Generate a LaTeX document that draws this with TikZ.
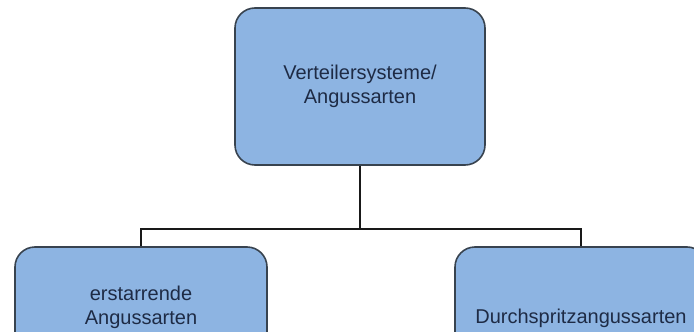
\documentclass[tikz,border=0pt]{standalone}
\usepackage{fontspec}
\setmainfont{Liberation Sans}
\usepackage{tikz}
\usetikzlibrary{positioning, calc}

\definecolor{boxfill}{HTML}{8DB4E2}
\definecolor{boxline}{HTML}{38434F}
\definecolor{boxtext}{HTML}{1E2B45}

\begin{document}
\begin{tikzpicture}[x=1pt, y=-1pt,
  box/.style={draw=boxline, line width=1.6pt, fill=boxfill, rounded corners=20pt,
    text=boxtext, font=\fontsize{20}{24}\selectfont, align=center, inner sep=0pt},
  conn/.style={line width=2.8pt, draw=black!90}]
  \useasboundingbox (0,0) rectangle (694,332);
  \fill[white] (0,0) rectangle (694,332);

  % === OBEN ===
  \node[box, minimum width=250, minimum height=157] (verteiler) at (360,86.5)
    {Verteilersysteme/\\Angussarten};

  % === UNTEN ===
  \node[box, minimum width=252, minimum height=120] (erstarrend) at (141,307)
    {erstarrende\\Angussarten};
  \node[box, minimum width=252, minimum height=120] (durchspritz) at (581,307) {};
  \node[text=boxtext, font=\fontsize{20}{24}\selectfont, inner sep=0pt] (durchspritztext)
    at (581,318) {Durchspritzangussarten};

  % Verbindungen
  \coordinate (bus) at (360,229);
  \draw[conn] (verteiler.south) -- (bus);
  \draw[conn] (erstarrend.north) |- (bus) -| (durchspritz.north);
\end{tikzpicture}
\end{document}
